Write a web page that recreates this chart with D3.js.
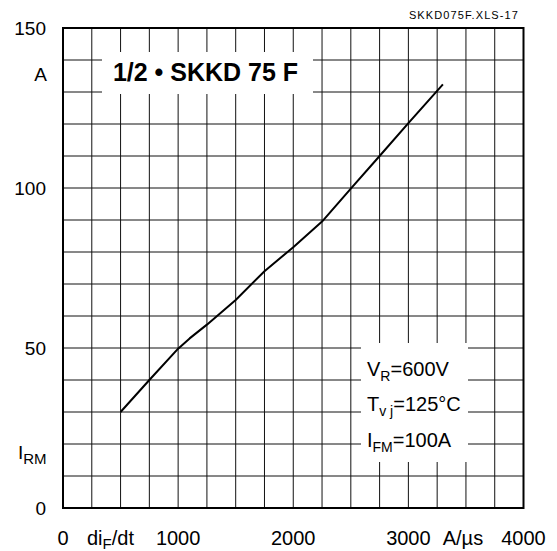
<!DOCTYPE html>
<html>
<head>
<meta charset="utf-8">
<script src="https://cdn.jsdelivr.net/npm/d3@7"></script>
<style>
  html, body { margin: 0; padding: 0; background: #fff; }
  svg { display: block; font-family: "Liberation Sans", Arial, sans-serif; }
</style>
</head>
<body>
<svg id="chart" width="557" height="551"></svg>
<script>
// ---- data ----
const diF = [500, 750, 1000, 1100, 1250, 1500, 1750, 2000, 2250, 2500, 2750, 3000, 3300];
const iRM = [30, 40, 49.8, 53, 57.3, 65, 74, 81.5, 89.5, 99.8, 110, 120.3, 132.4];
const xTicks = [0, 1000, 2000, 3000, 4000];
const xTickLabels = ["0", "1000", "2000", "3000", "4000"];
const yTicks = [0, 50, 100, 150];
const yTickLabels = ["0", "50", "100", "150"];
const xGrid = d3.range(0, 4001, 250);
const yGrid = d3.range(0, 151, 10);
const title = "1/2 \u2022 SKKD 75 F";
const fileTag = "SKKD075F.XLS-17";
const conditions = [
  { main: "V", sub: "R", rest: "=600V" },
  { main: "T", sub: "v j", rest: "=125\u00B0C" },
  { main: "I", sub: "FM", rest: "=100A" }
];

// ---- layout ----
const svg = d3.select("#chart");
const x = d3.scaleLinear().domain([0, 4000]).range([63, 523.5]);
const y = d3.scaleLinear().domain([0, 150]).range([508, 28]);

// grid
const g = svg.append("g");
g.selectAll("line.v").data(xGrid).join("line")
  .attr("x1", d => x(d)).attr("x2", d => x(d))
  .attr("y1", y(0)).attr("y2", y(150))
  .attr("stroke", "#111").attr("stroke-width", 1);
g.selectAll("line.h").data(yGrid).join("line")
  .attr("y1", d => y(d)).attr("y2", d => y(d))
  .attr("x1", x(0)).attr("x2", x(4000))
  .attr("stroke", "#111").attr("stroke-width", 1);

// white boxes
svg.append("rect").attr("x", 102).attr("y", 52).attr("width", 211).attr("height", 42).attr("fill", "#fff");
svg.append("rect").attr("x", 361).attr("y", 343).attr("width", 107).attr("height", 119).attr("fill", "#fff");

// frame
svg.append("rect").attr("x", x(0)).attr("y", y(150))
  .attr("width", x(4000) - x(0)).attr("height", y(0) - y(150))
  .attr("fill", "none").attr("stroke", "#000").attr("stroke-width", 2);

// curve
const pts = diF.map((d, i) => [d, iRM[i]]);
svg.append("path").datum(pts)
  .attr("d", d3.line().x(d => x(d[0])).y(d => y(d[1])))
  .attr("fill", "none").attr("stroke", "#000").attr("stroke-width", 2)
  .attr("stroke-linejoin", "round");

// y tick labels
const fs = 19;
const fx = 20;
svg.selectAll("text.yt").data(yTicks).join("text")
  .attr("x", 46).attr("y", d => y(d)).attr("dy", "0.35em")
  .attr("text-anchor", "end").attr("font-size", fs)
  .text((d, i) => yTickLabels[i]);
svg.append("text").attr("x", 47).attr("y", y(135.5)).attr("dy", "0.35em")
  .attr("text-anchor", "end").attr("font-size", fs).text("A");
const irm = svg.append("text").attr("x", 18).attr("y", y(17.5)).attr("dy", "0.35em")
  .attr("font-size", fs);
irm.append("tspan").text("I");
irm.append("tspan").attr("font-size", 15).attr("dy", 5).text("RM");

// x tick labels
const xl = 538;
svg.selectAll("text.xt").data(xTicks).join("text")
  .attr("x", d => x(d)).attr("y", xl).attr("dy", "0.35em")
  .attr("text-anchor", "middle").attr("font-size", fx)
  .text((d, i) => xTickLabels[i]);
const dif = svg.append("text").attr("x", 87).attr("y", xl).attr("dy", "0.35em")
  .attr("font-size", fx);
dif.append("tspan").text("di");
dif.append("tspan").attr("font-size", 15).attr("dy", 3.5).text("F");
dif.append("tspan").attr("dy", -3.5).text("/dt");
svg.append("text").attr("x", x(3500) - 3).attr("y", xl).attr("dy", "0.35em")
  .attr("text-anchor", "middle").attr("font-size", fx).text("A/\u00B5s");

// title
svg.append("text").attr("x", 205.5).attr("y", 72).attr("dy", "0.35em")
  .attr("text-anchor", "middle").attr("font-size", 25).attr("font-weight", "bold")
  .text(title);

// file tag
svg.append("text").attr("x", 519).attr("y", 15).attr("dy", "0.35em")
  .attr("text-anchor", "end").attr("font-size", 11).attr("letter-spacing", 1.1)
  .text(fileTag);

// conditions
const cy = [369, 404, 440];
conditions.forEach((c, i) => {
  const t = svg.append("text").attr("x", 367).attr("y", cy[i]).attr("dy", "0.35em")
    .attr("font-size", fx);
  t.append("tspan").text(c.main);
  t.append("tspan").attr("font-size", 14).attr("dy", 5).text(c.sub);
  t.append("tspan").attr("dy", -5).text(c.rest);
});
</script>
</body>
</html>
